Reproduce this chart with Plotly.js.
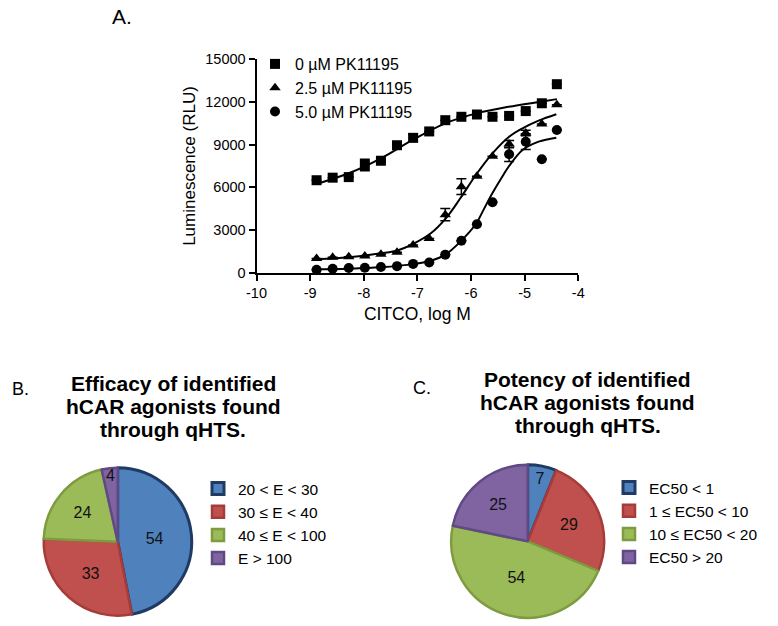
<!DOCTYPE html>
<html>
<head>
<meta charset="utf-8">
<script src="https://cdn.plot.ly/plotly-3.0.1.min.js"></script>
<style>
html,body{margin:0;padding:0;background:#fff;}
#chart{width:778px;height:626px;}
</style>
</head>
<body>
<div id="chart"></div>
<script>
// ---- Panel A data ----
const logConc = [-8.88,-8.58,-8.28,-7.98,-7.68,-7.38,-7.08,-6.78,-6.48,-6.18,-5.89,-5.60,-5.29,-4.98,-4.68,-4.40];
const pk0 = [6500,6680,6720,7570,7870,8960,9480,9930,10720,10960,11120,10960,11020,11360,11910,13250];
const pk0Err = [0,0,0,400,0,0,250,0,0,0,0,0,0,0,0,0];
const pk25 = [1000,1080,1120,1170,1290,1430,1950,2400,4080,6050,6780,8190,9040,9820,10450,11800];
const pk25Err = [0,0,0,0,0,0,0,0,430,550,0,0,250,200,0,0];
const pk50 = [200,280,330,350,400,460,620,720,1270,2250,3410,4950,8320,9210,7970,10030];
const pk50Err = [0,0,0,0,0,0,0,0,0,0,0,0,500,550,0,0];

// fitted curves
const fit0X = [-8.88,-8.28,-7.68,-7.08,-6.48,-5.90,-5.30,-4.70,-4.40];
const fit0Y = [6240,6990,8040,9350,10500,11200,11660,12020,12200];
const fit25X = [-8.88,-8.28,-7.68,-7.36,-7.06,-6.75,-6.47,-6.20,-5.91,-5.60,-5.29,-5.04,-4.74,-4.41];
const fit25Y = [940,1080,1360,1580,2060,2770,3820,5230,6870,8390,9560,10150,10690,11140];
const fit50X = [-8.88,-8.28,-7.68,-7.06,-6.75,-6.47,-6.20,-5.91,-5.77,-5.60,-5.41,-5.29,-5.04,-4.74,-4.41];
const fit50Y = [240,280,380,620,845,1290,2180,3420,4400,5600,6800,7500,8630,9210,9490];

const seriesNames = ['0 µM PK11195','2.5 µM PK11195','5.0 µM PK11195'];
const xTickVals = [-10,-9,-8,-7,-6,-5,-4];
const xTickText = ['-10','-9','-8','-7','-6','-5','-4'];
const yTickVals = [0,3000,6000,9000,12000,15000];
const yTickText = ['0','3000','6000','9000','12000','15000'];

// ---- Panel B data ----
const effLabels = ['20 < E < 30','30 ≤ E < 40','40 ≤ E < 100','E > 100'];
const effValues = [54,33,24,4];
// ---- Panel C data ----
const potLabels = ['EC50 < 1','1 ≤ EC50 < 10','10 ≤ EC50 < 20','EC50 > 20'];
const potValues = [7,29,54,25];

const sliceFill = ['#4F81BD','#C0504D','#9BBB59','#8064A2'];
const sliceLine = ['#1F3A63','#A53C39','#7E9C3F','#5F4A85'];
const sliceLineW = [3,2.5,2.5,2.5];

const FONT = 'Liberation Sans, Arial, sans-serif';
const W = 778, H = 626;
const px = v => v / W;
const py = v => 1 - v / H;

function errObj(arr){
  return {type:'data', array:arr, visible:true, color:'#000', thickness:1.5, width:5};
}

const traces = [
  {x:logConc, y:pk0, name:seriesNames[0], type:'scatter', mode:'markers',
   marker:{symbol:'square', size:10, color:'#000'}, error_y:errObj(pk0Err),
   xaxis:'x', yaxis:'y', legend:'legend', cliponaxis:false},
  {x:logConc, y:pk25, name:seriesNames[1], type:'scatter', mode:'markers',
   marker:{symbol:'triangle-up', size:10, color:'#000'}, error_y:errObj(pk25Err),
   xaxis:'x', yaxis:'y', legend:'legend', cliponaxis:false},
  {x:logConc, y:pk50, name:seriesNames[2], type:'scatter', mode:'markers',
   marker:{symbol:'circle', size:10, color:'#000'}, error_y:errObj(pk50Err),
   xaxis:'x', yaxis:'y', legend:'legend', cliponaxis:false},
  {x:fit0X, y:fit0Y, type:'scatter', mode:'lines', line:{color:'#000', width:2, shape:'spline'},
   showlegend:false, hoverinfo:'skip', xaxis:'x', yaxis:'y'},
  {x:fit25X, y:fit25Y, type:'scatter', mode:'lines', line:{color:'#000', width:2, shape:'spline'},
   showlegend:false, hoverinfo:'skip', xaxis:'x', yaxis:'y'},
  {x:fit50X, y:fit50Y, type:'scatter', mode:'lines', line:{color:'#000', width:2, shape:'spline'},
   showlegend:false, hoverinfo:'skip', xaxis:'x', yaxis:'y'},
  {type:'pie', labels:effLabels, values:effValues, sort:false, direction:'clockwise', rotation:0,
   marker:{colors:sliceFill, line:{color:sliceLine, width:sliceLineW}},
   textinfo:'value', textposition:'inside', insidetextorientation:'horizontal',
   textfont:{family:FONT, size:16, color:'#111'},
   domain:{x:[px(117.7-74), px(117.7+74)], y:[py(541.7+74), py(541.7-74)]},
   legend:'legend2', hoverinfo:'label+value'},
  {type:'pie', labels:potLabels, values:potValues, sort:false, direction:'clockwise', rotation:0,
   marker:{colors:sliceFill, line:{color:sliceLine, width:sliceLineW}},
   textinfo:'value', textposition:'inside', insidetextorientation:'horizontal',
   textfont:{family:FONT, size:16, color:'#111'},
   domain:{x:[px(527.7-76.5), px(527.7+76.5)], y:[py(541.3+76.5), py(541.3-76.5)]},
   legend:'legend3', hoverinfo:'label+value'}
];

function ann(text, x, y, size, bold, anchor){
  return {text: bold ? '<b>'+text+'</b>' : text, x:px(x), y:py(y), xref:'paper', yref:'paper',
    xanchor:anchor||'center', yanchor:'middle', showarrow:false,
    font:{family:FONT, size:size, color:'#000'}};
}

const layout = {
  width:W, height:H,
  margin:{l:0,r:0,t:0,b:0},
  paper_bgcolor:'#fff', plot_bgcolor:'#fff',
  font:{family:FONT, color:'#000'},
  showlegend:true,
  uniformtext:{mode:'show', minsize:16},
  xaxis:{domain:[px(256.5), px(578.3)], range:[-10,-4], tickvals:xTickVals, ticktext:xTickText,
    showgrid:false, zeroline:false, showline:true, linecolor:'#000', linewidth:2,
    ticks:'outside', ticklen:6, tickwidth:2, tickcolor:'#000',
    tickfont:{family:FONT, size:14.5, color:'#000'},
    title:{text:'CITCO, log M', font:{family:FONT, size:17.5, color:'#000'}, standoff:8},
    anchor:'y', automargin:false},
  yaxis:{domain:[py(272.7), py(59.3)], range:[0,15000], tickvals:yTickVals, ticktext:yTickText,
    showgrid:false, zeroline:false, showline:true, linecolor:'#000', linewidth:2,
    ticks:'outside', ticklen:6, tickwidth:2, tickcolor:'#000',
    tickfont:{family:FONT, size:14.5, color:'#000'},
    title:{text:'Luminescence (RLU)', font:{family:FONT, size:17, color:'#000'}, standoff:5},
    anchor:'x', automargin:false},
  legend:{x:px(255), y:py(47), xanchor:'left', yanchor:'top', bgcolor:'rgba(0,0,0,0)',
    font:{family:FONT, size:16, color:'#000'}},
  legend2:{x:px(198), y:py(472), xanchor:'left', yanchor:'top', bgcolor:'rgba(0,0,0,0)',
    font:{family:FONT, size:15.5, color:'#000'}},
  legend3:{x:px(609), y:py(471), xanchor:'left', yanchor:'top', bgcolor:'rgba(0,0,0,0)',
    font:{family:FONT, size:15.5, color:'#000'}},
  annotations:[
    ann('A.', 122, 17, 21, false),
    ann('B.', 20, 389, 18, false),
    ann('C.', 422, 388, 18, false),
    ann('Efficacy of identified', 173.3, 383.5, 21, true),
    ann('hCAR agonists found', 173.3, 406.5, 21, true),
    ann('through qHTS.', 173.3, 429.5, 21, true),
    ann('Potency of identified', 587.5, 379, 21, true),
    ann('hCAR agonists found', 587.5, 402, 21, true),
    ann('through qHTS.', 587.5, 425, 21, true)
  ]
};

Plotly.newPlot('chart', traces, layout, {displayModeBar:false, staticPlot:true});
</script>
</body>
</html>
